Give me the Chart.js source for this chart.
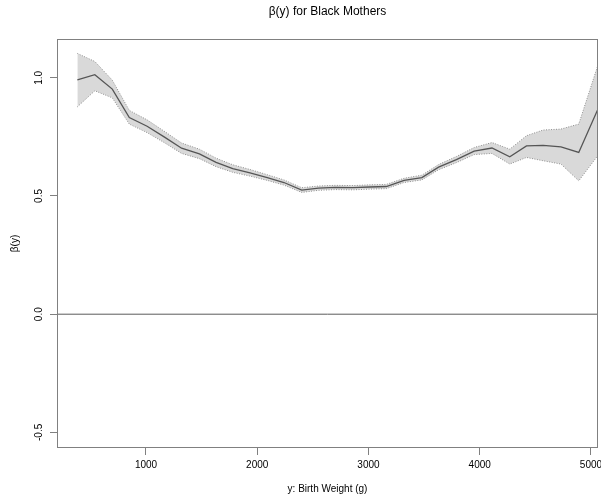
<!DOCTYPE html>
<html>
<head>
<meta charset="utf-8">
<script src="https://cdn.jsdelivr.net/npm/chart.js@4.4.0/dist/chart.umd.min.js"></script>
<style>
  html, body { margin: 0; padding: 0; background: #fff; }
</style>
</head>
<body>
<canvas id="chart-beta" width="601" height="500"></canvas>
<script>
// β(y) for Black Mothers — coefficient curve with pointwise band
const FONT = "'Liberation Sans', Arial, Helvetica, sans-serif";

const weights = [383, 540, 697, 850, 1010, 1170, 1320, 1480, 1630, 1780, 1935, 2090, 2240, 2400, 2550, 2700,
  2860, 3010, 3160, 3320, 3480, 3630, 3790, 3950, 4110, 4270, 4420, 4570, 4730, 4890, 5060];
const beta = [0.991, 1.013, 0.952, 0.832, 0.795, 0.748, 0.702, 0.678, 0.642, 0.616, 0.598, 0.578, 0.557, 0.525, 0.533, 0.536,
  0.535, 0.538, 0.540, 0.566, 0.578, 0.622, 0.654, 0.690, 0.703, 0.666, 0.712, 0.714, 0.708, 0.684, 0.865];
const upper = [1.103, 1.069, 0.990, 0.862, 0.822, 0.772, 0.724, 0.698, 0.660, 0.632, 0.612, 0.590, 0.568, 0.535, 0.542, 0.545,
  0.544, 0.547, 0.549, 0.575, 0.588, 0.633, 0.667, 0.705, 0.726, 0.698, 0.755, 0.779, 0.783, 0.804, 1.050];
const lower = [0.877, 0.945, 0.915, 0.804, 0.768, 0.724, 0.680, 0.658, 0.624, 0.600, 0.584, 0.566, 0.546, 0.515, 0.524, 0.527,
  0.526, 0.529, 0.531, 0.557, 0.568, 0.611, 0.641, 0.675, 0.680, 0.635, 0.663, 0.649, 0.635, 0.564, 0.670];

const xTicks = [1000, 2000, 3000, 4000, 5000];
const yTicks = [-0.5, 0, 0.5, 1.0];
const yTickLabels = ["-0.5", "0.0", "0.5", "1.0"];
const zeroLine = [0, 0];

const X_MIN = 200, X_MAX = 5063;
const Y_MIN = -0.566, Y_MAX = 1.164;

const pts = (vals) => weights.map((x, i) => ({ x, y: vals[i] }));

// box, rotated y tick labels (R style) and main title over the plot region
const rFrame = {
  id: "rFrame",
  afterDraw(chart) {
    const { ctx, chartArea: a, scales } = chart;
    ctx.save();
    ctx.strokeStyle = "#808080";
    ctx.lineWidth = 1;
    ctx.strokeRect(Math.round(a.left) + 0.5, Math.round(a.top) + 0.5,
      Math.round(a.right - a.left) - 1, Math.round(a.bottom - a.top) - 1);

    ctx.fillStyle = "#000";
    ctx.font = `10px ${FONT}`;
    ctx.textAlign = "center";
    ctx.textBaseline = "middle";
    yTicks.forEach((v, i) => {
      const py = scales.y.getPixelForValue(v);
      ctx.save();
      ctx.translate(39.5, py);
      ctx.rotate(-Math.PI / 2);
      ctx.fillText(yTickLabels[i], 0, 0);
      ctx.restore();
    });

    ctx.font = `12px ${FONT}`;
    ctx.fillText("β(y) for Black Mothers", (a.left + a.right) / 2, 12);
    ctx.restore();
  },
};

new Chart(document.getElementById("chart-beta"), {
  type: "line",
  data: {
    datasets: [
      { data: pts(beta), borderColor: "#555555", borderWidth: 1.3, pointRadius: 0, fill: false },
      {
        data: [{ x: X_MIN, y: zeroLine[0] }, { x: X_MAX, y: zeroLine[1] }],
        borderColor: "#5a5a5a", borderWidth: 1, pointRadius: 0, fill: false,
      },
      {
        data: pts(upper), borderColor: "#8f8f8f", borderWidth: 1, borderDash: [1, 1.5],
        pointRadius: 0, fill: "+1", backgroundColor: "#d9d9d9",
      },
      {
        data: pts(lower), borderColor: "#8f8f8f", borderWidth: 1, borderDash: [1, 1.5],
        pointRadius: 0, fill: false,
      },
    ],
  },
  options: {
    responsive: false,
    animation: false,
    layout: { padding: { top: 39, right: 3, left: 0, bottom: 0 } },
    plugins: {
      legend: { display: false },
      tooltip: { enabled: false },
      filler: { drawTime: "beforeDatasetsDraw" },
    },
    elements: { line: { tension: 0 } },
    scales: {
      x: {
        type: "linear",
        min: X_MIN, max: X_MAX,
        afterBuildTicks: (s) => { s.ticks = xTicks.map((v) => ({ value: v })); },
        afterFit: (s) => { s.height = 52; s.paddingLeft = 0; s.paddingRight = 0; },
        ticks: {
          autoSkip: false, maxRotation: 0, padding: 4, color: "#000",
          font: { family: FONT, size: 10 },
          callback: (v) => String(v),
        },
        grid: { drawOnChartArea: false, drawTicks: true, tickLength: 7, color: "#808080" },
        border: { display: false },
        title: {
          display: true, text: "y: Birth Weight (g)", color: "#000",
          font: { family: FONT, size: 10 }, padding: { top: 0, bottom: 5 },
        },
      },
      y: {
        type: "linear",
        min: Y_MIN, max: Y_MAX,
        afterBuildTicks: (s) => { s.ticks = yTicks.map((v) => ({ value: v })); },
        afterFit: (s) => { s.width = 57; s.paddingTop = 0; s.paddingBottom = 0; },
        ticks: { display: false },
        grid: { drawOnChartArea: false, drawTicks: true, tickLength: 7, color: "#808080" },
        border: { display: false },
        title: {
          display: true, text: "β(y)", color: "#000",
          font: { family: FONT, size: 10 }, padding: { top: 9, bottom: 0 },
        },
      },
    },
  },
  plugins: [rFrame],
});
</script>
</body>
</html>
